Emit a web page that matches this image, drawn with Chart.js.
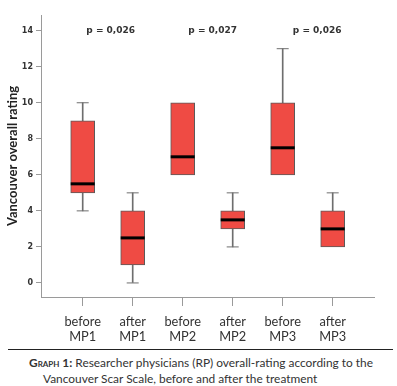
<!DOCTYPE html>
<html>
<head>
<meta charset="utf-8">
<script src="https://cdn.jsdelivr.net/npm/chart.js@4/dist/chart.umd.min.js"></script>
<style>
  html, body { margin: 0; padding: 0; background: #fff; }
  #wrap { position: relative; width: 397px; height: 345px; }
  #caption {
    margin: 4px 0 0 8px;
    width: 385px;
    border-top: 1px solid #222;
    font-family: Lato, "Open Sans", sans-serif;
    font-size: 11.9px;
    line-height: 15.5px;
    color: #333;
    padding-top: 5px;
    white-space: nowrap;
  }
  #caption .l1 { padding-left: 21px; }
  #caption .l2 { padding-left: 35px; }
  #caption b { font-variant: small-caps; }
</style>
</head>
<body>
<div id="wrap"><canvas id="c" width="397" height="345"></canvas></div>
<div id="caption">
  <div class="l1"><b>Graph 1:</b> Researcher physicians (RP) overall-rating according to the</div>
  <div class="l2">Vancouver Scar Scale, before and after the treatment</div>
</div>
<script>
    const GROUPS = [['before', 'MP1'], ['after', 'MP1'], ['before', 'MP2'], ['after', 'MP2'], ['before', 'MP3'], ['after', 'MP3']];
    const LOW    = [4, 0, 6, 2, 6, 2];
    const Q1     = [5, 1, 6, 3, 6, 2];
    const MEDIAN = [5.5, 2.5, 7, 3.5, 7.5, 3];
    const Q3     = [9, 4, 10, 4, 10, 4];
    const HIGH   = [10, 5, 10, 5, 13, 5];
    const Y_TICKS = [0, 2, 4, 6, 8, 10, 12, 14];
    const P_LABELS = ['p = 0,026', 'p = 0,027', 'p = 0,026'];
    const P_X = [0.56, 2.6, 4.69];
    const P_Y = 14;

    const BOX_FILL = '#ef4b44';
    const EDGE = '#5a5a5a';
    const WHISKER = '#6e6e6e';
    const AXIS = '#9a9a9a';

    const idx = GROUPS.map((_, i) => i);

    const boxes = idx.map(i => ({ x: i, y: [Q1[i], Q3[i]] }));
    const upper = idx.filter(i => HIGH[i] > Q3[i]).map(i => ({ x: i, y: [Q3[i], HIGH[i]] }));
    const lower = idx.filter(i => LOW[i] < Q1[i]).map(i => ({ x: i, y: [LOW[i], Q1[i]] }));
    const caps = [
        ...idx.filter(i => HIGH[i] > Q3[i]).map(i => ({ x: i, y: HIGH[i] })),
        ...idx.filter(i => LOW[i] < Q1[i]).map(i => ({ x: i, y: LOW[i] })),
    ];
    const medians = idx.map(i => ({ x: i, y: MEDIAN[i] }));

    const pLabels = {
        id: 'pLabels',
        afterDatasetsDraw(chart) {
            const { ctx, scales } = chart;
            ctx.save();
            ctx.font = 'bold 9px "DejaVu Sans", sans-serif';
            ctx.fillStyle = '#333';
            ctx.textAlign = 'center';
            ctx.textBaseline = 'middle';
            P_LABELS.forEach((t, k) => {
                ctx.fillText(t, scales.x.getPixelForValue(P_X[k]), scales.y.getPixelForValue(P_Y));
            });
            ctx.restore();
        },
    };

    new Chart(document.getElementById('c'), {
        type: 'bar',
        data: {
            datasets: [
                { type: 'bar', data: upper, backgroundColor: WHISKER, barThickness: 1, grouped: false, order: 3 },
                { type: 'bar', data: lower, backgroundColor: WHISKER, barThickness: 1, grouped: false, order: 3 },
                { type: 'scatter', data: caps, pointStyle: 'line', radius: 6, borderColor: WHISKER, borderWidth: 1, order: 2 },
                { type: 'bar', data: boxes, backgroundColor: BOX_FILL, borderColor: EDGE, borderWidth: 1,
                  borderSkipped: false, barThickness: 24, grouped: false, order: 1 },
                { type: 'scatter', data: medians, pointStyle: 'line', radius: 12, borderColor: '#000', borderWidth: 3, order: 0 },
            ],
        },
        options: {
            responsive: false,
            animation: false,
            layout: { padding: { top: 3, right: 23, left: 0, bottom: 0 } },
            plugins: { legend: { display: false }, tooltip: { enabled: false } },
            scales: {
                x: {
                    type: 'linear',
                    offset: false,
                    min: -0.834,
                    max: 5.826,
                    afterBuildTicks: s => { s.ticks = idx.map(v => ({ value: v })); },
                    afterFit: s => { s.height = 48; },
                    grid: { offset: false, drawOnChartArea: false, tickLength: 9, color: AXIS, tickColor: AXIS },
                    border: { color: AXIS, width: 1 },
                    ticks: {
                        callback: v => GROUPS[v],
                        maxRotation: 0,
                        padding: 8,
                        color: '#333',
                        font: { family: 'Lato, "Open Sans", sans-serif', size: 12.8, lineHeight: 1.17 },
                    },
                },
                y: {
                    min: -0.78,
                    max: 14.87,
                    afterBuildTicks: s => { s.ticks = Y_TICKS.map(v => ({ value: v })); },
                    afterFit: s => { s.width = 41; },
                    grid: { drawOnChartArea: false, tickLength: 5, color: AXIS, tickColor: AXIS },
                    border: { color: AXIS, width: 1 },
                    ticks: {
                        padding: 3,
                        color: '#333',
                        font: { family: '"DejaVu Sans", sans-serif', size: 8, weight: 'bold' },
                    },
                    title: {
                        display: true,
                        text: 'Vancouver overall rating',
                        color: '#222',
                        padding: { top: 5, bottom: 0 },
                        font: { family: 'Lato, sans-serif', size: 13, weight: 'bold' },
                    },
                },
            },
        },
        plugins: [pLabels],
    });
</script>
</body>
</html>
